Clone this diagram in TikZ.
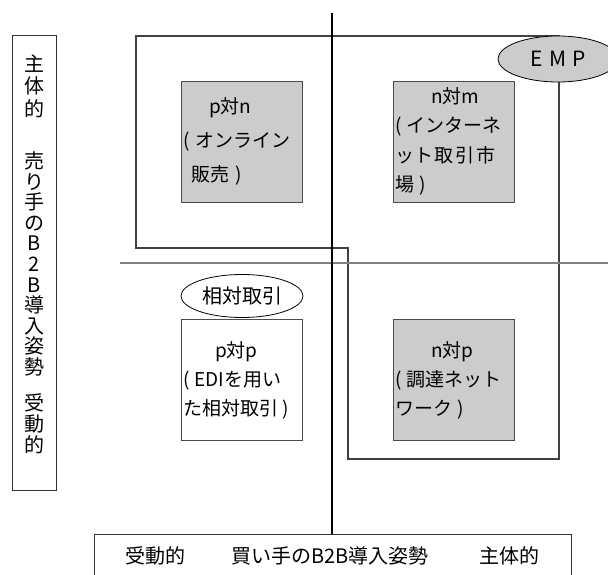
\documentclass[tikz,border=0pt]{standalone}
\usepackage{fontspec}
\setmainfont{Noto Sans CJK JP}
\usetikzlibrary{shapes.geometric}
\begin{document}
\begin{tikzpicture}[x=1pt,y=-1pt,
  quad/.style={draw=black!70, line width=0.9pt, minimum width=121pt, minimum height=121pt,
    inner xsep=2pt, text width=117pt, align=left},
  shaded/.style={quad, fill=gray!40},
  plain/.style={quad, fill=white},
  tag/.style={ellipse, draw=black, line width=0.8pt, inner sep=0pt, font=\fontsize{20}{24}\selectfont},
  frame/.style={draw=black!80, line width=1pt},
  region/.style={draw=black!75, line width=1.1pt},
  vtext/.style={align=center, inner sep=0pt, font=\fontsize{20}{21}\selectfont},
  axislabel/.style={inner sep=0pt, font=\fontsize{20}{24}\selectfont}
]
\useasboundingbox (0,0) rectangle (608,575);
\clip (0,0) rectangle (608,575);

% region outline (EMP)
\draw[region] (136,36) -- (559,36) -- (559,459) -- (348,459) -- (348,248) -- (136,248) -- cycle;

% bottom label box
\node[frame, minimum width=477pt, minimum height=44pt, inner sep=0pt, anchor=north west] (bottombox) at (94,534) {};
\node[axislabel] (blabel) at (332.5,556) {受動的\hspace{46pt}買い手のB2B導入姿勢\hspace{51pt}主体的};

% left label box
\node[frame, minimum width=44pt, minimum height=454pt, inner sep=0pt] (leftbox) at (34,263) {};
\node[vtext, font=\fontsize{20}{22.5}\selectfont] (ltop) at (34,86) {主\\体\\的};
\node[vtext, font=\fontsize{20}{20.6}\selectfont] (lmid) at (34,264) {売\\り\\手\\の\\B\\2\\B\\導\\入\\姿\\勢};
\node[vtext] (lbot) at (34,424) {受\\動\\的};

% axes
\coordinate (vtop) at (332,13);
\coordinate (hleft) at (120,263);
\coordinate (hright) at (608,263);
\draw[draw=gray, line width=2pt] (hleft) -- (hright);
\draw[draw=black, line width=1.3pt] (vtop) -- (vtop |- bottombox.north);

% quadrant boxes
\node[shaded, font=\fontsize{19}{34}\selectfont] (pn) at (241.5,141.5)
  {\hspace*{26pt}p対n\\(\hspace{6pt}オンライン\\\hspace*{8pt}販売\hspace{7pt})};
\node[shaded, font=\fontsize{19}{29.5}\selectfont] (nm) at (453.5,141.5)
  {\hspace*{36pt}n対m\\(\hspace{5pt}インターネ\\ット\hspace{2pt}取\hspace{2pt}引\hspace{2pt}市\\場\hspace{6pt})};
\node[plain, font=\fontsize{19}{29}\selectfont] (pp) at (241.5,380)
  {\hspace*{32pt}p対p\\(\hspace{5pt}EDIを用い\\た相対取引\hspace{5pt})};
\node[shaded, font=\fontsize{19}{29}\selectfont] (np) at (453.5,380)
  {\hspace*{36pt}n対p\\(\hspace{5pt}調達ネット\\ワーク\hspace{6pt})};

% tags
\node[tag, fill=white, minimum width=122pt, minimum height=43pt] (rel) at (242,296) {相対取引};
\node[tag, fill=gray!40, minimum width=120pt, minimum height=46pt] (emp) at (558,59) {\fontsize{21}{24}\selectfont E\hspace{6pt}M\hspace{6pt}P};
\end{tikzpicture}
\end{document}
